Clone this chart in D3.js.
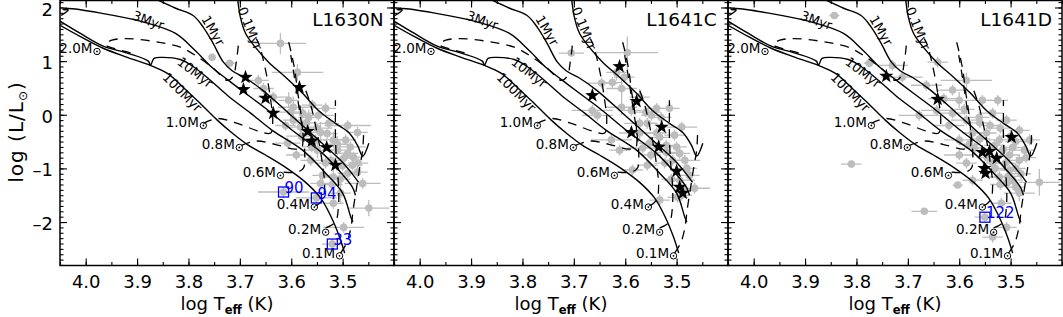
<!DOCTYPE html>
<html><head><meta charset="utf-8">
<script src="https://cdn.jsdelivr.net/npm/d3@7"></script>
<style>body{margin:0;background:#fff}svg{display:block}text{font-family:"DejaVu Sans",sans-serif}</style>
</head><body><svg id="c" width="1063" height="317"></svg>
<script>
// ---------------- data ----------------
const panelNames = ["L1630N", "L1641C", "L1641D"];
const xMajorTicks = [4.0, 3.9, 3.8, 3.7, 3.6, 3.5];
const yMajorTicks = [-2, -1, 0, 1, 2];

// isochrones [logTeff, logL]
const iso01Myr = [[3.705,2.22],[3.699,1.82],[3.689,1.52],[3.670,1.26],[3.644,0.98],[3.611,0.70],[3.578,0.40],[3.547,0.08],[3.514,-0.16],[3.488,-0.33],[3.471,-0.57],[3.461,-0.77],[3.449,-0.53]];
const iso1Myr = [[3.871,2.19],[3.826,1.99],[3.791,1.85],[3.771,1.63],[3.752,1.33],[3.732,0.98],[3.715,0.82],[3.690,0.69],[3.656,0.46],[3.605,0.03],[3.547,-0.47],[3.504,-0.85],[3.479,-1.13],[3.469,-1.26]];
const iso3Myr = [[4.048,1.85],[4.034,1.95],[4.044,1.96],[4.036,1.98],[3.968,1.89],[3.884,1.72],[3.826,1.52],[3.787,1.20],[3.754,0.88],[3.722,0.64],[3.689,0.40],[3.650,0.12],[3.598,-0.29],[3.539,-0.72],[3.508,-1.03],[3.481,-1.35],[3.475,-1.50]];
const iso10Myr = [[4.054,1.77],[4.011,1.52],[3.966,1.28],[3.919,1.15],[3.878,1.00],[3.874,0.92],[3.867,1.05],[3.851,1.07],[3.816,1.03],[3.791,0.90],[3.757,0.64],[3.724,0.36],[3.679,0.03],[3.637,-0.29],[3.578,-0.66],[3.533,-1.09],[3.500,-1.46],[3.484,-1.91],[3.480,-2.00]];
const iso100Myr = [[4.054,1.69],[4.011,1.46],[3.966,1.24],[3.919,1.07],[3.874,0.92],[3.841,0.77],[3.810,0.51],[3.777,0.21],[3.744,-0.10],[3.715,-0.34],[3.683,-0.57],[3.650,-0.75],[3.611,-0.98],[3.572,-1.26],[3.543,-1.55],[3.522,-1.91],[3.506,-2.28],[3.496,-2.58]];
const isoNames = ["0.1Myr", "1Myr", "3Myr", "10Myr", "100Myr"];
const isoLabelPos = [[3.680,1.61,68],[3.752,1.57,60],[3.878,1.76,20],[3.787,0.79,38],[3.812,0.42,45]];

// evolutionary tracks [logTeff, logL]
const trk20 = [[3.703,1.29],[3.707,0.98],[3.713,0.72],[3.724,0.64],[3.752,0.87],[3.787,1.11],[3.816,1.26],[3.845,1.33],[3.884,1.39],[3.923,1.42],[3.949,1.39],[3.962,1.31],[3.939,1.22],[3.910,1.15]];
const trk10 = [[3.771,-0.16],[3.744,-0.07],[3.705,-0.16],[3.662,-0.31],[3.640,-0.34],[3.636,-0.10],[3.640,0.27],[3.646,0.64],[3.654,1.01],[3.662,1.30],[3.668,1.42]];
const trk08 = [[3.697,-0.57],[3.668,-0.49],[3.632,-0.55],[3.593,-0.64],[3.580,-0.62],[3.578,-0.29],[3.582,0.08],[3.588,0.46],[3.593,0.83],[3.601,1.20],[3.607,1.42]];
const trk06 = [[3.615,-1.07],[3.588,-1.07],[3.576,-0.99],[3.574,-0.66],[3.578,-0.29],[3.584,0.08],[3.590,0.46],[3.596,0.83],[3.601,1.11]];
const trk04 = [[3.553,-1.70],[3.539,-1.59],[3.535,-1.31],[3.539,-0.94],[3.545,-0.57],[3.553,-0.19],[3.562,0.18],[3.572,0.46]];
const trk02 = [[3.533,-2.11],[3.514,-2.00],[3.508,-1.68],[3.508,-1.31],[3.512,-0.85],[3.514,-0.38],[3.514,0.08],[3.514,0.27]];
const trk01 = [[3.504,-2.58],[3.492,-2.39],[3.484,-2.11],[3.479,-1.74],[3.473,-1.37],[3.467,-1.00],[3.461,-0.66],[3.459,-0.29]];
const massNames = ["2.0", "1.0", "0.8", "0.6", "0.4", "0.2", "0.1"];
const massLabelPos = [[3.978,1.18],[3.771,-0.20],[3.701,-0.61],[3.621,-1.13],[3.555,-1.72],[3.533,-2.19],[3.506,-2.63]];

// observed sources: [logTeff, logL, err logTeff, err logL]
const grayL1630N = [[3.754,1.07,0.005,0.05],[3.720,0.96,0.01,0.05],[3.621,1.33,0.05,0.2],[3.664,0.64,0.02,0.1],[3.588,0.79,0.05,0.15],[3.654,0.49,0.02,0.1],[3.635,0.33,0.03,0.1],[3.605,0.27,0.02,0.15],[3.596,0.14,0.03,0.2],[3.578,0.03,0.02,0.1],[3.566,-0.05,0.02,0.15],[3.547,-0.01,0.03,0.1],[3.527,-0.16,0.02,0.1],[3.490,-0.20,0.045,0.1],[3.471,-0.33,0.02,0.1],[3.543,-0.33,0.02,0.2],[3.582,-0.23,0.03,0.15],[3.607,-0.53,0.025,0.1],[3.596,-0.10,0.02,0.1],[3.518,-0.47,0.02,0.15],[3.510,-0.66,0.02,0.1],[3.490,-0.72,0.02,0.1],[3.549,-0.66,0.03,0.15],[3.498,-0.81,0.02,0.1],[3.479,-0.79,0.02,0.1],[3.518,-1.16,0.02,0.15],[3.490,-1.09,0.02,0.1],[3.471,-1.07,0.02,0.1],[3.461,-1.28,0.035,0.1],[3.449,-1.74,0.04,0.15],[3.504,-1.46,0.02,0.2],[3.498,-2.10,0.04,0.1],[3.533,-0.90,0.02,0.1],[3.543,-1.28,0.02,0.1],[3.518,-1.65,0.02,0.1],[3.601,0.05,0.03,0.1],[3.559,0.18,0.02,0.1],[3.533,0.12,0.02,0.1],[3.611,-0.20,0.02,0.1],[3.553,-0.47,0.02,0.1],[3.523,-0.85,0.02,0.1],[3.494,-0.47,0.02,0.1],[3.481,-0.94,0.02,0.1],[3.590,-0.75,0.02,0.1],[3.562,-0.85,0.02,0.1],[3.539,-1.13,0.02,0.1],[3.570,-0.15,0.02,0.1],[3.550,-0.25,0.03,0.1],[3.530,-0.35,0.02,0.1],[3.510,-0.55,0.02,0.15],[3.500,-0.95,0.02,0.1],[3.485,-0.60,0.03,0.1],[3.470,-0.90,0.02,0.1],[3.520,-1.30,0.02,0.1],[3.505,-1.20,0.02,0.1],[3.580,-0.40,0.03,0.1],[3.560,-0.60,0.02,0.1],[3.615,-1.44,0.05,0.1],[3.551,-1.55,0.04,0.1],[3.520,-2.41,0.02,0.1]];
const grayL1641C = [[3.705,1.15,0.025,0.05],[3.596,1.16,0.06,0.3],[3.617,0.79,0.02,0.15],[3.646,0.59,0.03,0.1],[3.625,0.60,0.02,0.1],[3.607,0.49,0.03,0.2],[3.607,0.14,0.03,0.15],[3.588,0.08,0.02,0.1],[3.572,0.33,0.02,0.15],[3.539,0.12,0.02,0.1],[3.654,-0.01,0.03,0.1],[3.664,0.08,0.04,0.1],[3.572,-0.16,0.03,0.1],[3.557,-0.16,0.02,0.1],[3.490,-0.23,0.03,0.1],[3.572,-0.34,0.04,0.15],[3.539,-0.34,0.02,0.1],[3.504,-0.38,0.02,0.1],[3.566,-0.62,0.03,0.1],[3.520,-0.57,0.02,0.1],[3.494,-0.72,0.02,0.1],[3.484,-0.85,0.03,0.1],[3.508,-0.85,0.02,0.1],[3.523,-0.90,0.02,0.1],[3.586,-1.03,0.02,0.1],[3.494,-1.22,0.03,0.1],[3.484,-1.41,0.02,0.1],[3.465,-1.37,0.03,0.1],[3.490,-1.50,0.02,0.1],[3.533,-1.59,0.02,0.1],[3.549,-0.01,0.02,0.1],[3.514,0.12,0.02,0.1],[3.602,0.70,0.02,0.1],[3.553,-0.53,0.02,0.1],[3.557,-0.94,0.02,0.1],[3.533,-0.42,0.02,0.1],[3.475,-1.13,0.02,0.1],[3.498,-1.54,0.02,0.1],[3.627,-0.47,0.04,0.1],[3.611,-0.66,0.02,0.1],[3.550,-0.75,0.02,0.1],[3.520,-0.70,0.02,0.1],[3.500,-0.60,0.02,0.1],[3.480,-1.00,0.02,0.1],[3.510,-1.20,0.02,0.1],[3.530,-0.05,0.02,0.1],[3.560,0.05,0.03,0.1]];
const grayL1641D = [[3.843,1.85,0.01,0.05],[3.775,0.96,0.01,0.05],[3.730,0.92,0.03,0.1],[3.711,0.70,0.04,0.1],[3.642,0.98,0.02,0.1],[3.586,0.64,0.05,0.15],[3.664,0.55,0.03,0.1],[3.613,0.46,0.03,0.1],[3.678,-0.01,0.04,0.1],[3.644,0.08,0.03,0.1],[3.600,0.27,0.03,0.15],[3.555,0.27,0.02,0.1],[3.525,0.27,0.02,0.1],[3.613,0.03,0.03,0.1],[3.586,-0.10,0.03,0.1],[3.561,-0.05,0.02,0.1],[3.535,0.03,0.02,0.1],[3.508,-0.10,0.02,0.1],[3.483,-0.29,0.02,0.1],[3.600,-0.47,0.03,0.1],[3.574,-0.34,0.02,0.1],[3.547,-0.34,0.02,0.1],[3.522,-0.47,0.02,0.1],[3.496,-0.61,0.02,0.1],[3.600,-0.75,0.03,0.1],[3.810,-0.92,0.02,0.05],[3.603,-1.31,0.01,0.05],[3.668,-1.80,0.025,0.05],[3.444,-1.26,0.04,0.25],[3.508,-1.28,0.02,0.1],[3.483,-1.46,0.03,0.15],[3.502,-1.03,0.02,0.1],[3.483,-0.85,0.02,0.1],[3.518,-1.65,0.02,0.1],[3.508,-2.10,0.02,0.1],[3.535,-2.28,0.02,0.1],[3.550,-1.91,0.02,0.1],[3.535,-0.90,0.02,0.1],[3.522,-1.16,0.02,0.1],[3.496,-1.22,0.02,0.1],[3.574,-1.22,0.02,0.1],[3.586,-0.90,0.02,0.1],[3.473,-0.66,0.02,0.1],[3.463,-0.47,0.02,0.1],[3.531,-0.57,0.02,0.1],[3.502,-0.75,0.02,0.1],[3.570,-0.62,0.02,0.1],[3.560,-0.15,0.02,0.1],[3.540,-0.20,0.02,0.1],[3.520,-0.25,0.02,0.1],[3.500,-0.40,0.02,0.1],[3.490,-0.50,0.02,0.1],[3.515,-0.65,0.02,0.1],[3.545,-0.80,0.02,0.1],[3.530,-1.00,0.02,0.1],[3.510,-0.90,0.02,0.1],[3.490,-1.00,0.02,0.1],[3.480,-1.10,0.02,0.1],[3.505,-1.15,0.02,0.1],[3.520,-1.30,0.02,0.1],[3.490,-1.35,0.02,0.1],[3.470,-0.80,0.02,0.1],[3.560,-0.45,0.02,0.1],[3.580,-0.55,0.02,0.1],[3.620,-0.20,0.03,0.1],[3.630,0.30,0.03,0.1],[3.590,0.10,0.02,0.1]];

const starsL1630N = [[3.689,0.70],[3.693,0.47],[3.650,0.31],[3.635,0.03],[3.584,0.51],[3.568,-0.31],[3.560,-0.49],[3.531,-0.61],[3.514,-0.94]];
const starsL1641C = [[3.611,0.90],[3.664,0.36],[3.578,0.25],[3.529,-0.23],[3.588,-0.33],[3.535,-0.60],[3.500,-1.05],[3.494,-1.35],[3.488,-1.46]];
const starsL1641D = [[3.742,0.72],[3.642,0.29],[3.498,-0.42],[3.555,-0.70],[3.541,-0.68],[3.527,-0.81],[3.551,-1.00],[3.549,-1.09]];

const squaresL1630N = [[3.615,-1.44,"90"],[3.551,-1.55,"94"],[3.520,-2.41,"33"]];
const squaresL1641C = [];
const squaresL1641D = [[3.550,-1.91,"122"]];

// ---------------- drawing ----------------
const grayData = [grayL1630N, grayL1641C, grayL1641D];
const starData = [starsL1630N, starsL1641C, starsL1641D];
const squareData = [squaresL1630N, squaresL1641C, squaresL1641D];
const isochrones = [iso01Myr, iso1Myr, iso3Myr, iso10Myr, iso100Myr];
const tracks = [trk20, trk10, trk08, trk06, trk04, trk02, trk01];

const svg = d3.select("#c");
const panelLeft = [60, 394, 728], PW = 334, PT = 0.5, PB = 265.5;
const GRAY = "#bdbdbd";

function starPath(R, r) {
  let p = "";
  for (let k = 0; k < 10; k++) {
    const a = -Math.PI / 2 + k * Math.PI / 5;
    const rr = k % 2 ? r : R;
    p += (k ? "L" : "M") + (rr * Math.cos(a)).toFixed(2) + "," + (rr * Math.sin(a)).toFixed(2);
  }
  return p + "Z";
}

panelNames.forEach((name, i) => {
  const x = d3.scaleLinear().domain([4.05, 3.40]).range([panelLeft[i], panelLeft[i] + PW]);
  const y = d3.scaleLinear().domain([-2.81, 2.13]).range([PB, PT]);
  const g = svg.append("g");
  const cid = "clip" + i;
  svg.append("clipPath").attr("id", cid).append("rect")
    .attr("x", panelLeft[i]).attr("y", PT).attr("width", PW).attr("height", PB - PT);
  const pg = g.append("g").attr("clip-path", `url(#${cid})`);

  // error bars and gray points
  const gd = grayData[i];
  pg.append("g").attr("stroke", GRAY).attr("stroke-width", 1.3).selectAll("path").data(gd).join("path")
    .attr("d", d => `M${x(d[0] + d[2])},${y(d[1])}H${x(d[0] - d[2])}M${x(d[0])},${y(d[1] + d[3])}V${y(d[1] - d[3])}`);
  pg.append("g").attr("fill", GRAY).selectAll("circle").data(gd).join("circle")
    .attr("cx", d => x(d[0])).attr("cy", d => y(d[1])).attr("r", 3.8);

  const line = d3.line().x(d => x(d[0])).y(d => y(d[1])).curve(d3.curveCatmullRom.alpha(0.5));
  pg.append("g").attr("fill", "none").attr("stroke", "#000").attr("stroke-width", 1.4)
    .selectAll("path").data(isochrones).join("path").attr("d", line);
  pg.append("g").attr("fill", "none").attr("stroke", "#000").attr("stroke-width", 1.3).attr("stroke-dasharray", "9,7")
    .selectAll("path").data(tracks).join("path").attr("d", line);

  // isochrone labels
  pg.append("g").selectAll("text").data(isoNames).join("text")
    .attr("transform", (d, k) => `translate(${x(isoLabelPos[k][0])},${y(isoLabelPos[k][1])}) rotate(${isoLabelPos[k][2]})`)
    .attr("text-anchor", "middle").attr("dy", "0.35em").attr("font-size", 13).attr("fill", "#000").text(d => d);

  // mass labels
  const ml = pg.append("g");
  massNames.forEach((m, k) => {
    const cx = x(massLabelPos[k][0]), cy = y(massLabelPos[k][1]);
    ml.append("text").attr("x", cx - 4.5).attr("y", cy + 2).attr("text-anchor", "end").attr("font-size", 13.5).text(m + "M");
    ml.append("circle").attr("cx", cx).attr("cy", cy).attr("r", 3.2).attr("fill", "none").attr("stroke", "#000").attr("stroke-width", 1);
    ml.append("circle").attr("cx", cx).attr("cy", cy).attr("r", 0.9).attr("fill", "#000");
  });

  // stars
  pg.append("g").selectAll("path").data(starData[i]).join("path")
    .attr("transform", d => `translate(${x(d[0])},${y(d[1])})`).attr("d", starPath(7.5, 3.0)).attr("fill", "#000");

  // squares
  const sq = pg.append("g");
  sq.selectAll("rect").data(squareData[i]).join("rect")
    .attr("x", d => x(d[0]) - 5).attr("y", d => y(d[1]) - 5).attr("width", 10).attr("height", 10)
    .attr("fill", "none").attr("stroke", "#0000ff").attr("stroke-width", 1.3);
  sq.selectAll("text").data(squareData[i]).join("text")
    .attr("x", d => x(d[0]) + 1).attr("y", d => y(d[1]) + 1).attr("font-size", 15).attr("fill", "#0000ff").text(d => d[2]);

  // region name
  g.append("text").attr("x", x(3.559)).attr("y", y(1.65)).attr("font-size", 18.5).text(name);

  // axes
  const minorX = d3.range(4.05, 3.39, -0.05).map(v => +v.toFixed(2));
  const minorY = d3.range(-2.8, 2.15, 0.1).map(v => +v.toFixed(1));
  const ax = g.append("g");
  const bot = d3.axisBottom(x).tickValues(xMajorTicks).tickSize(-7).tickPadding(10).tickFormat(d3.format(".1f"));
  ax.append("g").attr("transform", `translate(0,${PB})`).call(bot);
  ax.append("g").attr("transform", `translate(0,${PB})`).call(d3.axisBottom(x).tickValues(minorX).tickSize(-3.5).tickFormat(""));
  ax.append("g").attr("transform", `translate(0,${PT})`).call(d3.axisTop(x).tickValues(xMajorTicks).tickSize(-7).tickFormat(""));
  ax.append("g").attr("transform", `translate(0,${PT})`).call(d3.axisTop(x).tickValues(minorX).tickSize(-3.5).tickFormat(""));
  const left = d3.axisLeft(y).tickValues(yMajorTicks).tickSize(-7).tickPadding(7).tickFormat(i === 0 ? (d => d < 0 ? "\u2013" + (-d) : d) : "");
  const lg = ax.append("g").attr("class", "yl").attr("transform", `translate(${panelLeft[i]},0)`).call(left);
  ax.append("g").attr("transform", `translate(${panelLeft[i]},0)`).call(d3.axisLeft(y).tickValues(minorY).tickSize(-3.5).tickFormat(""));
  ax.append("g").attr("transform", `translate(${panelLeft[i] + PW},0)`).call(d3.axisRight(y).tickValues(yMajorTicks).tickSize(-7).tickFormat(""));
  ax.append("g").attr("transform", `translate(${panelLeft[i] + PW},0)`).call(d3.axisRight(y).tickValues(minorY).tickSize(-3.5).tickFormat(""));
  ax.selectAll(".domain").remove();
  ax.selectAll(".tick line").attr("stroke", "#000").attr("stroke-width", 1.1);
  ax.selectAll(".tick text").attr("font-family", "DejaVu Sans").attr("font-size", 18).attr("fill", "#000");
  lg.selectAll(".tick text").attr("dy", "0.42em");
  g.append("rect").attr("x", panelLeft[i]).attr("y", PT).attr("width", PW).attr("height", PB - PT)
    .attr("fill", "none").attr("stroke", "#000").attr("stroke-width", 1.5);

  // x title
  const xt = g.append("text").attr("x", panelLeft[i] + PW / 2).attr("y", 310).attr("text-anchor", "middle").attr("font-size", 18);
  xt.append("tspan").text("log T");
  xt.append("tspan").attr("font-size", 11.5).attr("font-weight", "bold").attr("dy", 4).text("eff");
  xt.append("tspan").attr("dy", -4).text(" (K)");
});

// y title
const yt = svg.append("text").attr("transform", "translate(23,132) rotate(-90)").attr("text-anchor", "middle").attr("font-size", 20).attr("letter-spacing", 1);
yt.append("tspan").text("log (L/L");
yt.append("tspan").attr("font-size", 12).attr("dy", 4).text("\u2299");
yt.append("tspan").attr("dy", -4).text(")");
</script>
</body></html>
